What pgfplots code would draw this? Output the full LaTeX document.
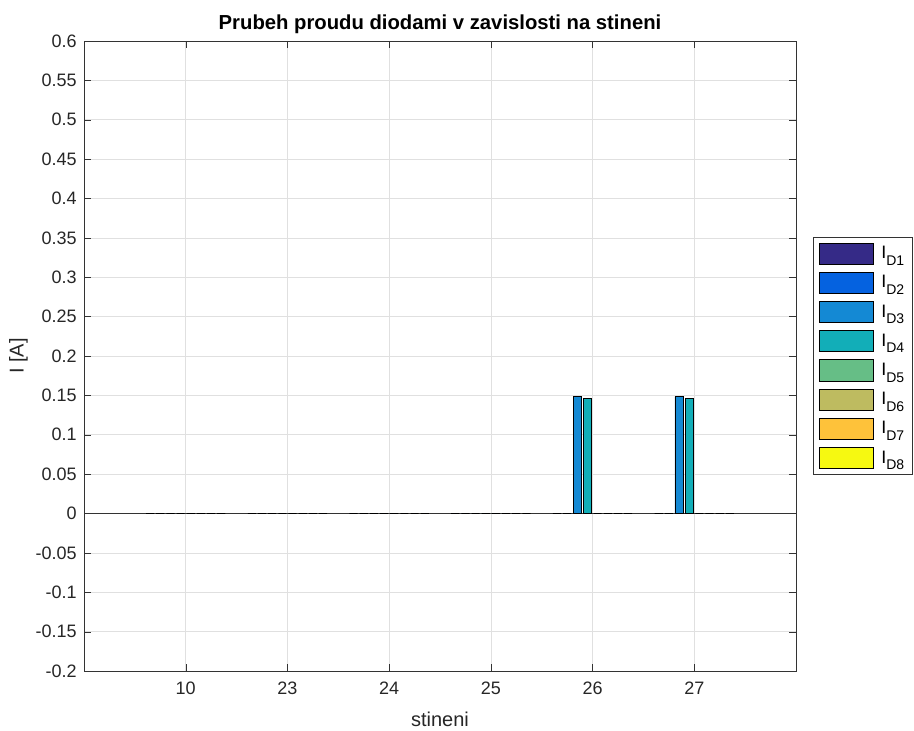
\documentclass[border=0pt]{standalone}
\usepackage{fontspec}
\setmainfont{Liberation Sans}
\usepackage{pgfplots}
\usepackage{pgfplotstable}
\pgfplotsset{compat=1.18}
\definecolor{c1}{HTML}{352A87}
\definecolor{c2}{HTML}{0562E0}
\definecolor{c3}{HTML}{1489D4}
\definecolor{c4}{HTML}{12AEB8}
\definecolor{c5}{HTML}{66BE86}
\definecolor{c6}{HTML}{BEBB60}
\definecolor{c7}{HTML}{FEC23A}
\definecolor{c8}{HTML}{F6F911}
\pgfplotstableread{
x d1 d2 d3 d4 d5 d6 d7 d8
1 0 0 0 0 0 0 0 0
2 0 0 0 0 0 0 0 0
3 0 0 0 0 0 0 0 0
4 0 0 0 0 0 0 0 0
5 0 0 0.1485 0.1465 0 0 0 0
6 0 0 0.1485 0.1465 0 0 0 0
}\data
\pgfplotsset{
  mybar/.style={ybar, bar width=0.08, bar shift=#1, draw=black, line width=0.5pt,
    legend image code/.code={\draw[##1, draw=black, line width=0.5pt] (0pt,-8pt) rectangle (40.5pt,8pt);}},
}
\newcommand{\ID}[1]{I\raisebox{-5pt}{\fontsize{10.5}{12}\selectfont D#1}}
\begin{document}
\begin{tikzpicture}
\begin{axis}[
  scale only axis, width=534pt, height=472.5pt,
  xmin=0, xmax=7, ymin=-0.2, ymax=0.6,
  xtick={1,2,3,4,5,6}, xticklabels={10,23,24,25,26,27},
  ytick={-0.2,-0.15,-0.1,-0.05,0,0.05,0.1,0.15,0.2,0.25,0.3,0.35,0.4,0.45,0.5,0.55,0.6},
  yticklabel style={/pgf/number format/fixed, /pgf/number format/precision=2, xshift=-2pt},
  xticklabel style={yshift=-4.5pt},
  /pgf/number format/assume math mode=true,
  tick label style={font=\fontsize{13.5}{15}\selectfont, black!85},
  grid=major, major grid style={black!12, line width=0.5pt},
  axis line style={black!80}, tick style={black!80},
  tick align=inside, major tick length=5pt,
  title={\bfseries Prubeh proudu diodami v zavislosti na stineni},
  title style={font=\fontsize{15.2}{18}\selectfont, yshift=-4pt},
  xlabel={stineni}, ylabel={I [A]},
  label style={font=\fontsize{15}{17}\selectfont, black!85},
  xlabel style={yshift=-6pt},
  ylabel style={yshift=-1pt},
  legend style={at={(1.024,0.689)}, anchor=north west, draw=black!80,
    font=\fontsize{13.5}{16}\selectfont, row sep=5.4pt, inner xsep=4pt, inner ysep=4pt,
    cells={anchor=west},
    /tikz/every odd column/.append style={column sep=4pt}},
  legend cell align=left,
]
\addplot[black!80, line width=0.6pt, forget plot] coordinates {(0,0) (7,0)};
\addplot[mybar=-0.35, fill=c1] table[x=x,y=d1]{\data};
\addplot[mybar=-0.25, fill=c2] table[x=x,y=d2]{\data};
\addplot[mybar=-0.15, fill=c3] table[x=x,y=d3]{\data};
\addplot[mybar=-0.05, fill=c4] table[x=x,y=d4]{\data};
\addplot[mybar=0.05, fill=c5] table[x=x,y=d5]{\data};
\addplot[mybar=0.15, fill=c6] table[x=x,y=d6]{\data};
\addplot[mybar=0.25, fill=c7] table[x=x,y=d7]{\data};
\addplot[mybar=0.35, fill=c8] table[x=x,y=d8]{\data};
\legend{\ID{1},\ID{2},\ID{3},\ID{4},\ID{5},\ID{6},\ID{7},\ID{8}}
\end{axis}
\path ([shift={(-63pt,-43.5pt)}]current axis.south west) rectangle ([shift={(88.5pt,30.75pt)}]current axis.north east);
\end{tikzpicture}
\end{document}
